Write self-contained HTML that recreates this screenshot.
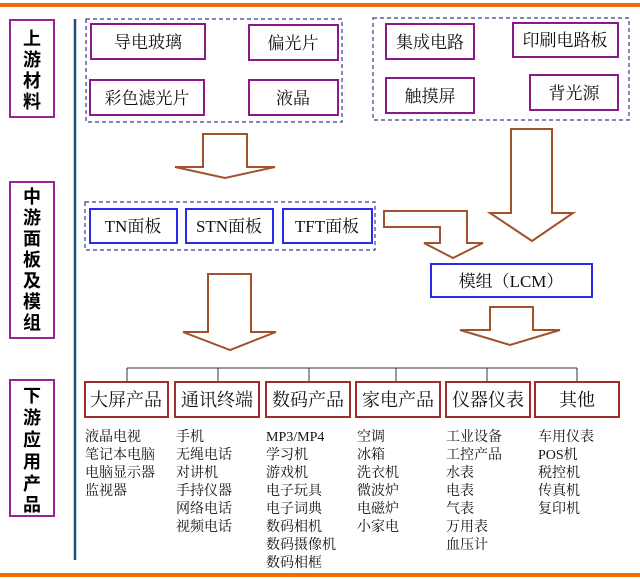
<!DOCTYPE html>
<html><head><meta charset="utf-8"><style>
html,body{margin:0;padding:0;background:#fff;}
svg{display:block;}
.t{font-family:"Liberation Serif","Noto Serif CJK SC",serif;font-size:17px;fill:#111;}
.l{font-family:"Liberation Serif","Noto Serif CJK SC",serif;font-size:14px;fill:#111;}
.v{font-family:"Liberation Sans","Noto Sans CJK SC",sans-serif;font-size:18px;font-weight:bold;fill:#000;}
</style></head><body>
<svg width="640" height="579" xmlns="http://www.w3.org/2000/svg">
<rect x="0" y="3" width="640" height="4" fill="#f26a0f"/>
<rect x="0" y="573" width="640" height="4" fill="#f26a0f"/>
<line x1="75" y1="19" x2="75" y2="560" stroke="#1f4e79" stroke-width="2.5"/>
<g fill="none" stroke="#992299" stroke-width="2">
<rect x="10" y="20" width="44" height="97"/>
<rect x="10" y="182" width="44" height="156"/>
<rect x="10" y="380" width="44" height="136"/>
</g>
<g class="v" text-anchor="middle">
<text x="32" y="45">上</text><text x="32" y="66">游</text><text x="32" y="87">材</text><text x="32" y="108">料</text>
<text x="32" y="203">中</text><text x="32" y="224">游</text><text x="32" y="245">面</text><text x="32" y="266">板</text><text x="32" y="287">及</text><text x="32" y="308">模</text><text x="32" y="329">组</text>
<text x="32" y="402">下</text><text x="32" y="424">游</text><text x="32" y="446">应</text><text x="32" y="468">用</text><text x="32" y="490">产</text><text x="32" y="511">品</text>
</g>
<g fill="none" stroke="#3a3a8a" stroke-width="1.2" stroke-dasharray="4,3">
<rect x="86" y="19" width="256" height="103"/>
<rect x="373" y="18" width="256" height="102"/>
<rect x="85" y="202" width="290" height="48"/>
</g>
<g fill="#fff" stroke="#8a1a8a" stroke-width="2">
<rect x="91" y="24" width="114" height="35"/>
<rect x="249" y="25" width="89" height="35"/>
<rect x="90" y="80" width="114" height="35"/>
<rect x="249" y="80" width="89" height="35"/>
<rect x="386" y="24" width="88" height="35"/>
<rect x="513" y="23" width="105" height="34"/>
<rect x="386" y="78" width="88" height="35"/>
<rect x="530" y="75" width="88" height="35"/>
</g>
<g class="t" text-anchor="middle">
<text x="148" y="48">导电玻璃</text>
<text x="293" y="49">偏光片</text>
<text x="147" y="104">彩色滤光片</text>
<text x="293" y="104">液晶</text>
<text x="430" y="48">集成电路</text>
<text x="565" y="46">印刷电路板</text>
<text x="430" y="102">触摸屏</text>
<text x="574" y="99">背光源</text>
</g>
<g fill="#fff" stroke="#2b2bf0" stroke-width="2">
<rect x="90" y="209" width="87" height="34"/>
<rect x="186" y="209" width="87" height="34"/>
<rect x="283" y="209" width="89" height="34"/>
<rect x="431" y="264" width="161" height="33"/>
</g>
<g class="t" text-anchor="middle">
<text x="133" y="232">TN面板</text>
<text x="229" y="232">STN面板</text>
<text x="327" y="232">TFT面板</text>
<text x="511" y="287">模组（LCM）</text>
</g>
<g fill="#fff" stroke="#a0522d" stroke-width="2" stroke-linejoin="miter">
<polygon points="203,134 247,134 247,167 275,167 225,178 175,167 203,167"/>
<polygon points="384,211 467,211 467,243 483,243 453,258 424,243 440,243 440,227 384,227"/>
<polygon points="511,129 552,129 552,213 573,213 532,241 490,213 511,213"/>
<polygon points="208,274 251,274 251,332 276,332 230,350 183,332 208,332"/>
<polygon points="490,307 533,307 533,330 560,330 510,345 460,330 490,330"/>
</g>
<g stroke="#333" stroke-width="1" fill="none">
<line x1="127" y1="368" x2="577" y2="368"/>
<line x1="127" y1="368" x2="127" y2="382"/>
<line x1="218" y1="368" x2="218" y2="382"/>
<line x1="309" y1="368" x2="309" y2="382"/>
<line x1="396" y1="368" x2="396" y2="382"/>
<line x1="487" y1="368" x2="487" y2="382"/>
<line x1="577" y1="368" x2="577" y2="382"/>
</g>
<g fill="#fff" stroke="#a52a2a" stroke-width="2">
<rect x="85" y="382" width="83" height="35"/>
<rect x="175" y="382" width="84" height="35"/>
<rect x="266" y="382" width="84" height="35"/>
<rect x="356" y="382" width="84" height="35"/>
<rect x="446" y="382" width="84" height="35"/>
<rect x="535" y="382" width="84" height="35"/>
</g>
<g class="t" text-anchor="middle" style="font-size:18px">
<text x="126" y="406">大屏产品</text>
<text x="217" y="406">通讯终端</text>
<text x="308" y="406">数码产品</text>
<text x="398" y="406">家电产品</text>
<text x="488" y="406">仪器仪表</text>
<text x="577" y="406">其他</text>
</g>
<g class="l">
<text x="85" y="441">液晶电视</text><text x="85" y="459">笔记本电脑</text><text x="85" y="477">电脑显示器</text><text x="85" y="495">监视器</text>
<text x="176" y="441">手机</text><text x="176" y="459">无绳电话</text><text x="176" y="477">对讲机</text><text x="176" y="495">手持仪器</text><text x="176" y="513">网络电话</text><text x="176" y="531">视频电话</text>
<text x="266" y="441">MP3/MP4</text><text x="266" y="459">学习机</text><text x="266" y="477">游戏机</text><text x="266" y="495">电子玩具</text><text x="266" y="513">电子词典</text><text x="266" y="531">数码相机</text><text x="266" y="549">数码摄像机</text><text x="266" y="567">数码相框</text>
<text x="357" y="441">空调</text><text x="357" y="459">冰箱</text><text x="357" y="477">洗衣机</text><text x="357" y="495">微波炉</text><text x="357" y="513">电磁炉</text><text x="357" y="531">小家电</text>
<text x="446" y="441">工业设备</text><text x="446" y="459">工控产品</text><text x="446" y="477">水表</text><text x="446" y="495">电表</text><text x="446" y="513">气表</text><text x="446" y="531">万用表</text><text x="446" y="549">血压计</text>
<text x="538" y="441">车用仪表</text><text x="538" y="459">POS机</text><text x="538" y="477">税控机</text><text x="538" y="495">传真机</text><text x="538" y="513">复印机</text>
</g>
</svg>
</body></html>
